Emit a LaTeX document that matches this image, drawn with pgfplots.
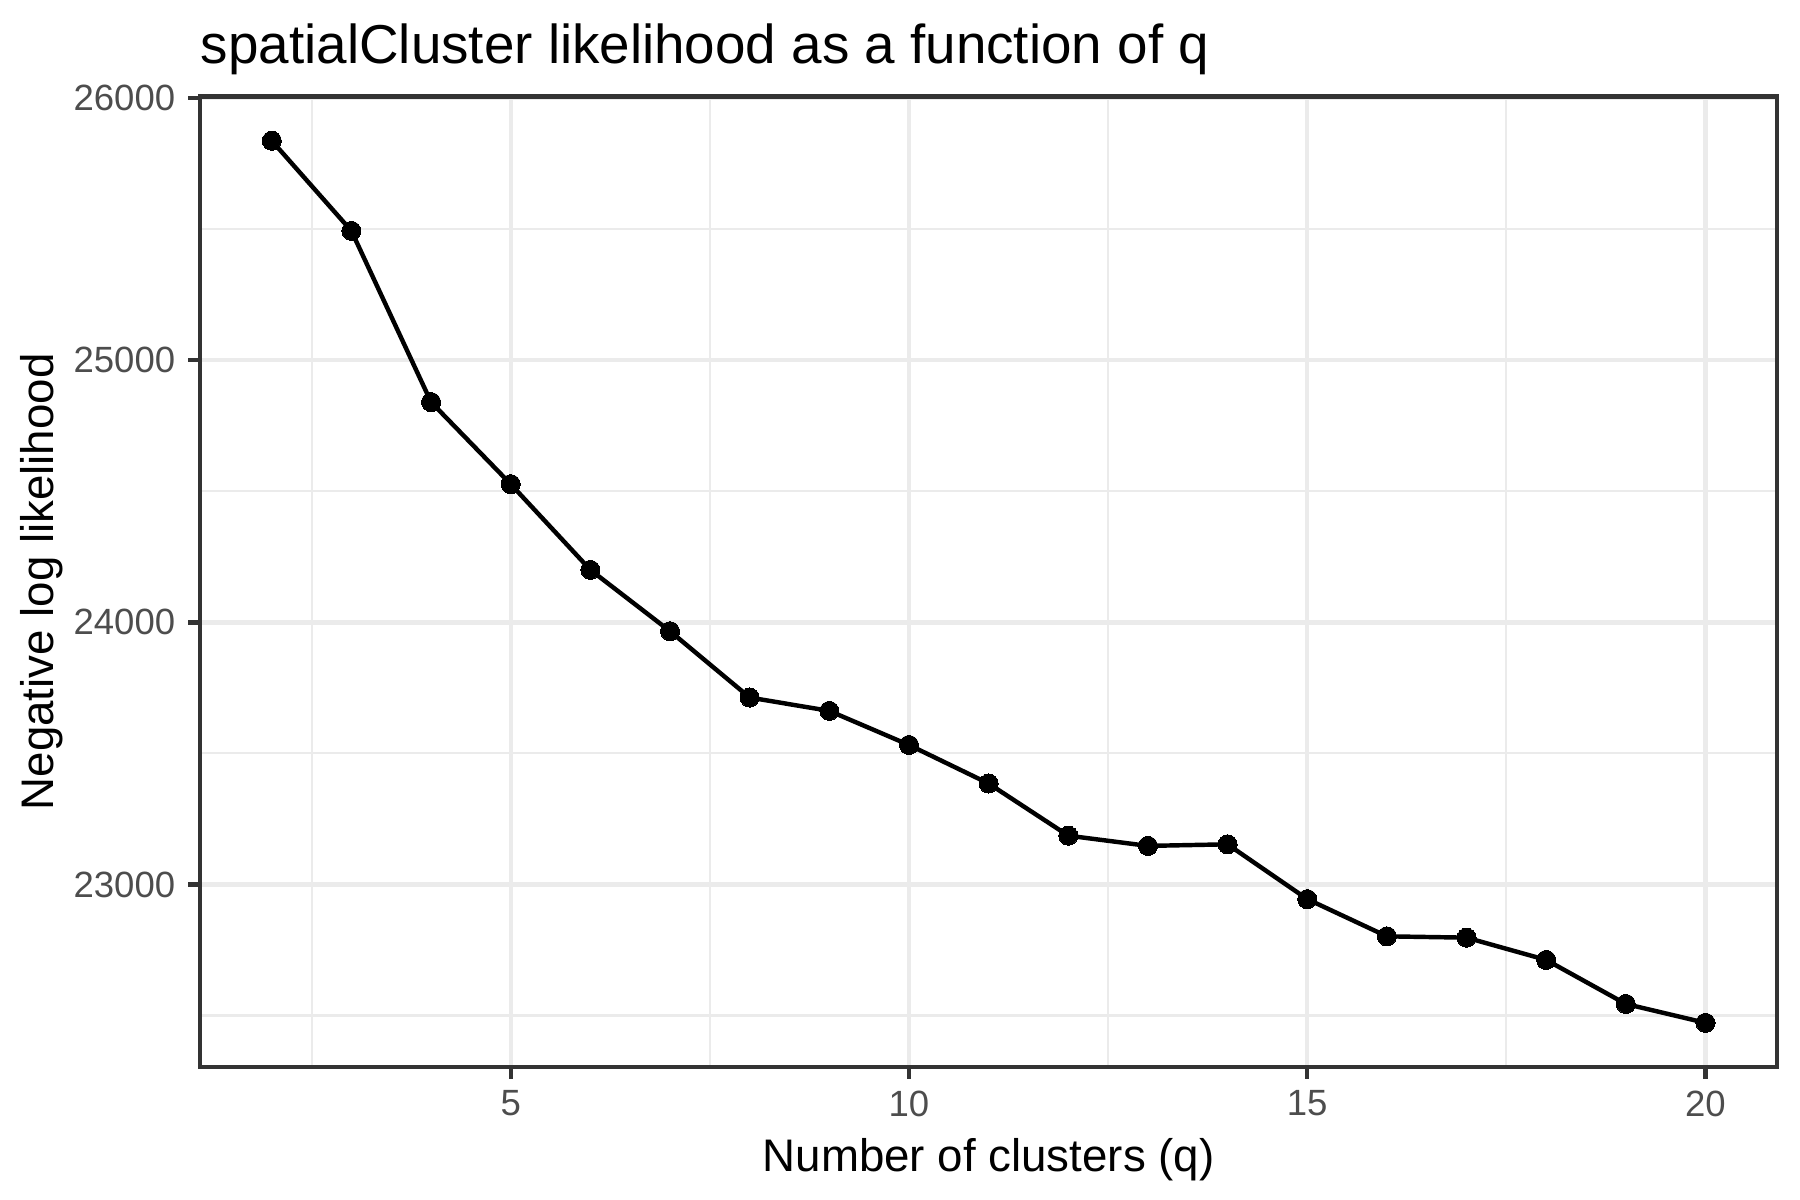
\documentclass[border=0pt]{standalone}
\usepackage{pgfplots}
\pgfplotsset{compat=1.18}
\usepackage{fontspec}
\setmainfont{Liberation Sans}

\definecolor{gray20}{HTML}{333333}
\definecolor{gray30}{HTML}{4D4D4D}
\definecolor{gray92}{HTML}{EBEBEB}

\begin{document}
\begin{tikzpicture}
	% page is 6in x 4in, panel's SW corner at origin
	\path[use as bounding box] (-48.2pt,-32.0pt) rectangle (385.4pt,257.0pt);
	\begin{axis}[
		at={(0,0)}, anchor=south west,
		scale only axis,
		width=379.9pt, height=233.7pt,
		xmin=1.1, xmax=20.9,
		ymin=22304, ymax=26005,
		xtick={5,10,15,20},
		minor xtick={2.5,7.5,12.5,17.5},
		ytick={23000,24000,25000,26000},
		minor ytick={22500,23500,24500,25500},
		scaled y ticks=false,
		grid=both,
		major grid style={color=gray92, line width=1.07pt},
		minor grid style={color=gray92, line width=0.53pt},
		axis line style={color=gray20, line width=1.07pt},
		tick align=outside,
		major tick length=2.9pt,
		minor tick length=0pt,
		major tick style={color=gray20, line width=1.07pt},
		xtick pos=bottom, ytick pos=left,
		/pgf/number format/1000 sep={},
		/pgf/number format/assume math mode=true,
		ticklabel style={font=\fontsize{8.8}{10}\selectfont, text=gray30, inner sep=0pt},
		yticklabel style={anchor=east, xshift=-2.9pt},
		xticklabel style={anchor=north, yshift=-2.6pt},
		title={spatialCluster likelihood as a function of q},
		% the default title style already shifts it up by 6pt
		title style={at={(axis description cs:0,1.009)}, anchor=base west,
			font=\fontsize{13.2}{15}\selectfont, inner sep=0pt},
		xlabel={Number of clusters (q)},
		xlabel style={at={(axis description cs:0.5,-0.1083)}, anchor=base,
			font=\fontsize{11}{13}\selectfont, inner sep=0pt},
		ylabel={Negative log likelihood},
		ylabel style={at={(axis description cs:-0.0932,0.5)}, anchor=base,
			font=\fontsize{11}{13}\selectfont, inner sep=0pt},
		clip=false,
	]
		\addplot[color=black, line width=1.07pt, mark=*, mark size=2.3pt,
			mark options={fill=black, draw=black, line width=0pt}]
			coordinates {
				(2, 25837)(3, 25493)(4, 24840)(5, 24527)(6, 24200)(7, 23966)
				(8, 23713)(9, 23662)(10, 23532)(11, 23385)(12, 23186)(13, 23147)
				(14, 23153)(15, 22944)(16, 22802)(17, 22797)(18, 22712)(19, 22544)
				(20, 22472)
			};
	\end{axis}
\end{tikzpicture}
\end{document}
